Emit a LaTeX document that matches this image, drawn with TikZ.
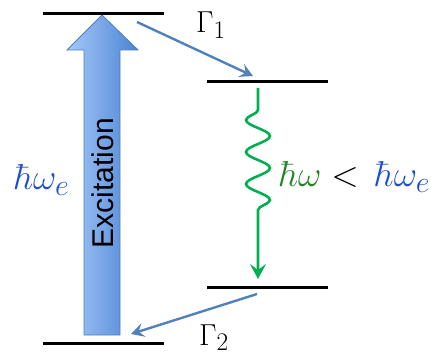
\documentclass[tikz,border=0pt]{standalone}
\usepackage{fontspec}
\newfontfamily\arialfont{Liberation Sans}
\usetikzlibrary{arrows.meta,decorations.pathmorphing}
\definecolor{decayblue}{HTML}{4F81BD}
\definecolor{wavegreen}{HTML}{00B050}
\definecolor{tgreen}{HTML}{1F8424}
\definecolor{tblue}{HTML}{1E4FD2}
\definecolor{exlight}{HTML}{A6C8F8}
\definecolor{exdark}{HTML}{4A84D4}
\definecolor{exedge}{HTML}{4A7EC4}
\begin{document}
\begin{tikzpicture}[x=1pt,y=-1pt,
  level/.style={line width=3pt,black},
  decay/.style={line width=2.4pt,decayblue,-{Stealth[length=13pt,width=14pt,inset=5pt]}},
  emission/.style={line width=2.6pt,wavegreen,-{Stealth[length=15pt,width=16pt,inset=6pt]},
    decorate,decoration={snake,mirror,amplitude=12pt,segment length=32pt,pre length=22pt,post length=55pt}},
  mlabel/.style={anchor=base west,inner sep=0pt,font=\fontsize{24.88}{30}\selectfont,scale=1.22,transform shape},
  wlabel/.style={anchor=base west,inner sep=0pt,font=\fontsize{24.88}{30}\selectfont,scale=1.45,transform shape}]
\useasboundingbox (0,0) rectangle (431,358);
% excitation arrow
\path[left color=exlight,right color=exdark,draw=exedge,line width=0.8pt,line join=miter]
  (84,335) -- (84,50) -- (67,50) -- (102,15) -- (138,50) -- (120,50) -- (120,335) -- cycle;
\node[rotate=90,inner sep=0pt,font=\arialfont\fontsize{30}{36}\selectfont] (exc) at (103,183) {Excitation};
% levels
\coordinate (e1L) at (43,14); \coordinate (e1R) at (164,14);
\coordinate (e2L) at (207,82); \coordinate (e2R) at (328,82);
\coordinate (e3L) at (207,287); \coordinate (e3R) at (328,287);
\coordinate (gL) at (43,343); \coordinate (gR) at (164,343);
\draw[level] (e1L) -- (e1R);
\draw[level] (e2L) -- (e2R);
\draw[level] (e3L) -- (e3R);
\draw[level] (gL) -- (gR);
% decays
\coordinate (d1s) at (137,22); \coordinate (d1e) at (253,76);
\coordinate (d2s) at (257,294); \coordinate (d2e) at (131,334);
\draw[decay] (d1s) -- (d1e);
\draw[decay] (d2s) -- (d2e);
% emission
\coordinate (ws) at (258,88); \coordinate (we) at (258,279);
\draw[emission] (ws) -- (we);
% labels
\node[mlabel] (g1) at (196,33) {$\Gamma_1$};
\node[mlabel] (g2) at (199,345) {$\Gamma_2$};
\node[wlabel,text=tblue] (hwe) at (14,190) {$\hbar\omega_e$};
\node[wlabel] (cmp) at (279,187) {${\color{tgreen}\hbar\omega} < \,{\color{tblue}\hbar\omega_e}$};
\end{tikzpicture}
\end{document}
